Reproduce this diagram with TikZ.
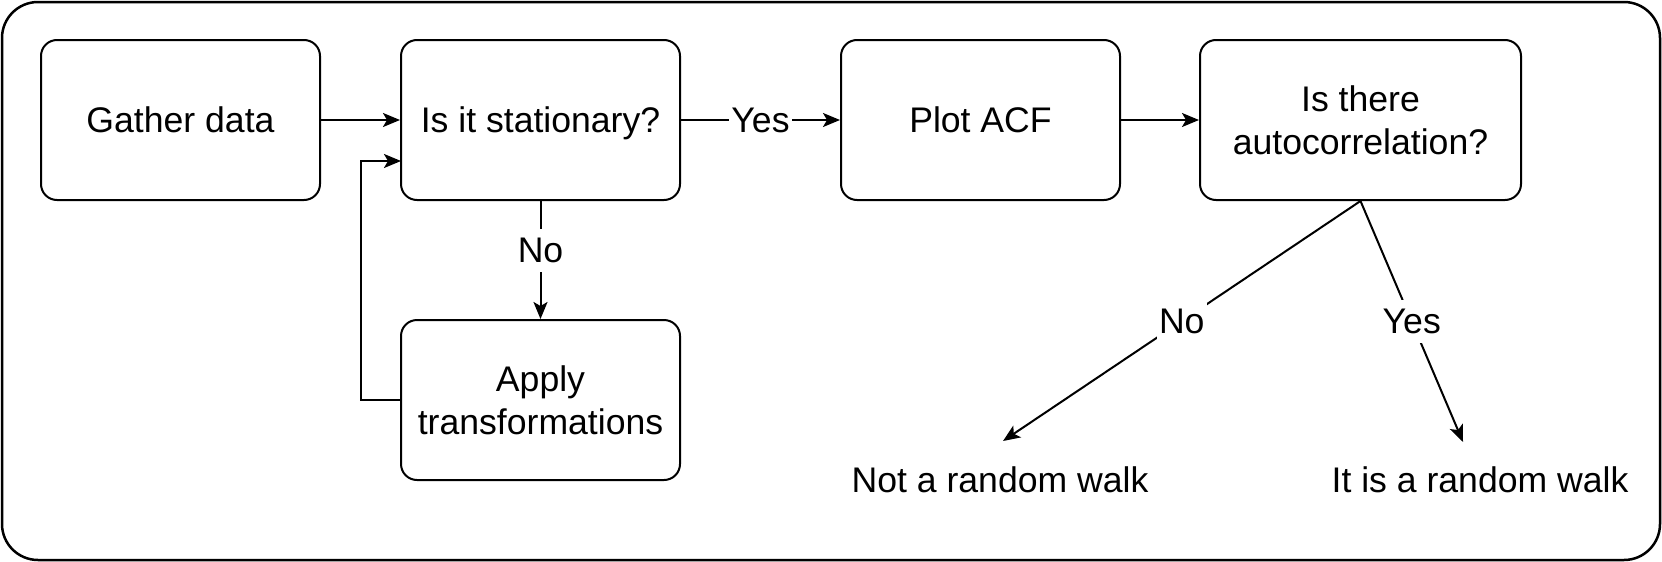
\documentclass[tikz,border=0pt]{standalone}
\usepackage{fontspec}
\setmainfont{Liberation Sans}
\usetikzlibrary{arrows.meta}
\begin{document}
\begin{tikzpicture}[x=1pt,y=-1pt,
  every node/.style={font=\fontsize{35.6}{43}\selectfont},
  box/.style={draw, line width=2pt, rounded corners=16pt, minimum width=279pt, minimum height=160pt, align=center, inner sep=0pt},
  oneline/.style={text height=32pt, text depth=7.5pt},
  plain/.style={align=center, inner sep=0pt, oneline},
  conn/.style={line width=2pt, -{Stealth[length=17pt,width=14pt,inset=4pt]}},
  lbl/.style={fill=white, inner sep=2pt, oneline}]
\useasboundingbox (0,0) rectangle (1662,562);
\node[draw, line width=2.5pt, rounded corners=36pt, minimum width=1658pt, minimum height=558pt, inner sep=0pt] (frame) at (831,281) {};
\node[box, oneline] (gather) at (180.5,120) {Gather data};
\node[box, oneline] (stat) at (540.5,120) {Is it stationary?};
\node[box, oneline] (acf) at (980.5,120) {Plot ACF};
\node[box, minimum width=321pt] (auto) at (1360.5,120) {Is there\\autocorrelation?};
\node[box] (apply) at (540.5,400) {Apply\\transformations};
\node[plain] (notrw) at (1000,480) {Not a random walk};
\node[plain] (isrw) at (1480,480) {It is a random walk};
\coordinate (notend) at (1003,441);
\coordinate (isend) at (1463,442);
\coordinate (loopin) at (401,161);
\draw[conn] (gather.east) -- (stat.west);
\draw[conn] (stat.east) -- node[lbl] {Yes} (acf.west);
\draw[conn] (acf.east) -- (auto.west);
\draw[conn] (stat.south) -- node[lbl, pos=0.42] {No} (apply.north);
\draw[conn] (apply.west) -- (361,400) -- (361,161) -- (loopin);
\draw[conn] (auto.south) -- node[lbl] {No} (notend);
\draw[conn] (auto.south) -- node[lbl] {Yes} (isend);
\end{tikzpicture}
\end{document}
